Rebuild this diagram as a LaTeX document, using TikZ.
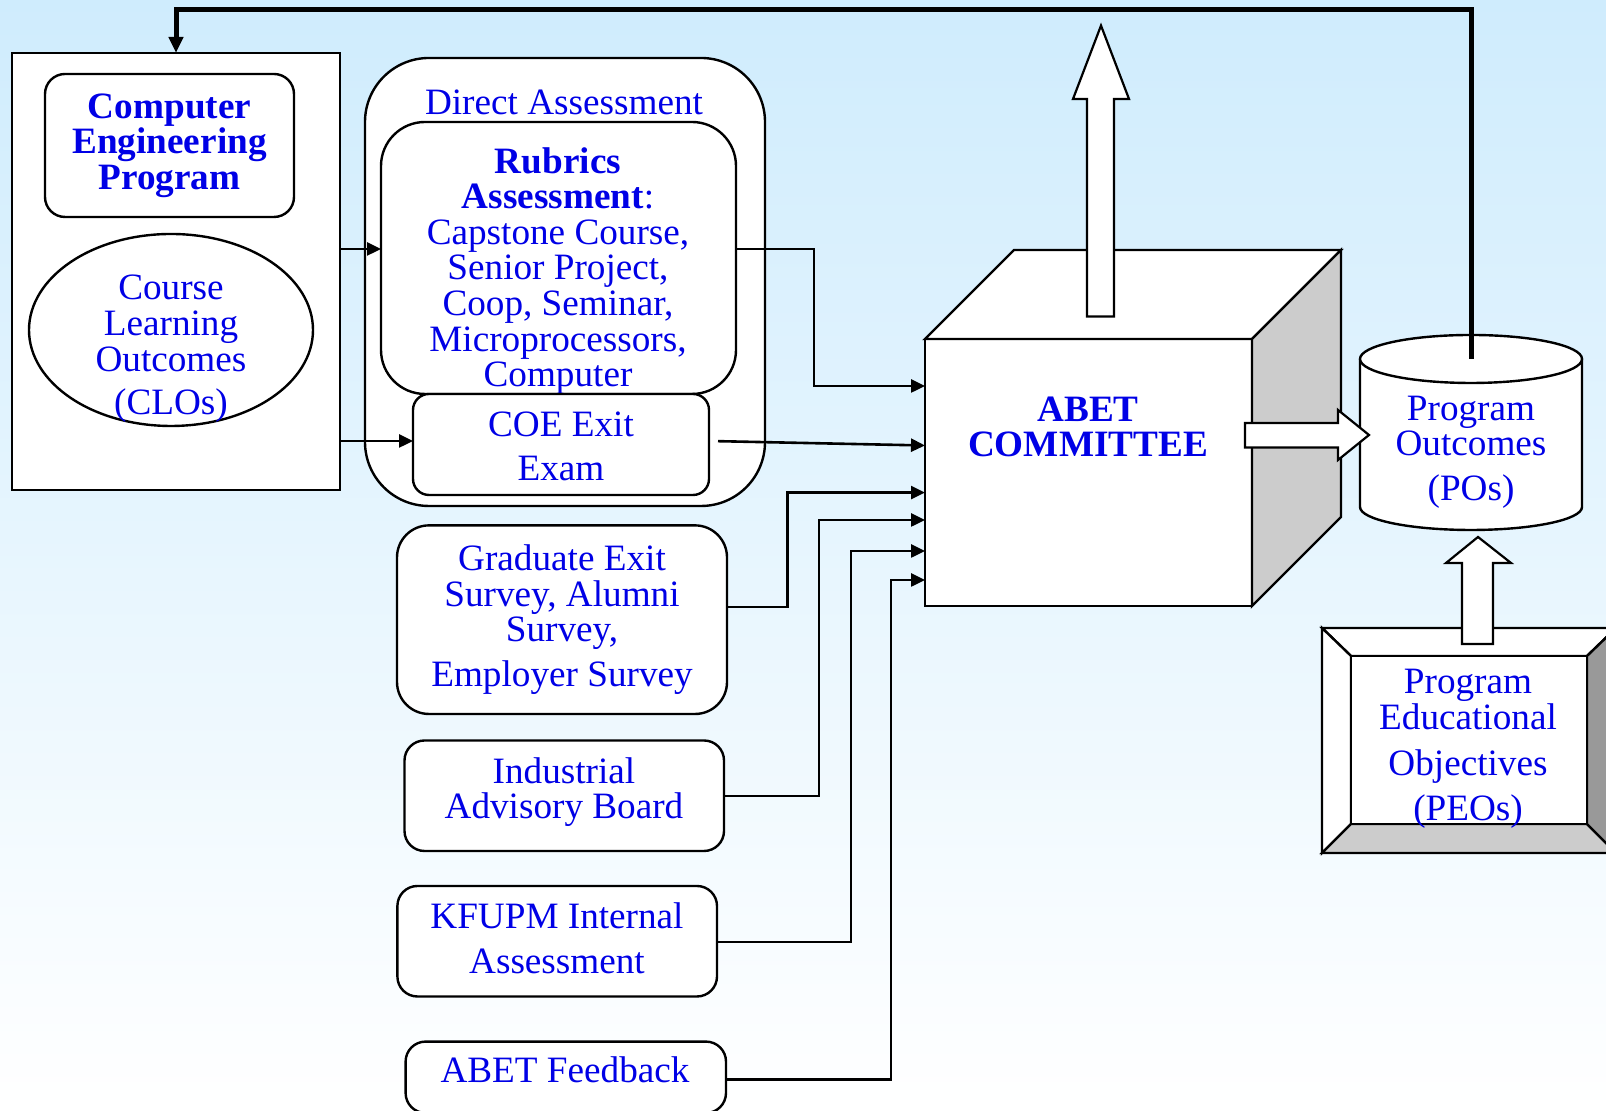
\documentclass[tikz,border=0pt]{standalone}
\usepackage{fontspec}
\setmainfont{Liberation Serif}
\usetikzlibrary{positioning,shapes,arrows.meta,calc}
\definecolor{tblue}{RGB}{0,0,230}
\definecolor{bgtop}{RGB}{207,236,253}
\definecolor{bgmid}{RGB}{236,246,255}
\definecolor{lgray}{RGB}{204,204,204}
\definecolor{dgray}{RGB}{153,153,153}
\newcommand{\diafont}{\fontsize{18.6}{17.8}\selectfont}
\tikzstyle{box} = [draw, fill=white, line width=1.2pt, inner sep=0pt, outer sep=0pt,
    align=center, text=tblue, font=\diafont]
\tikzstyle{rbox} = [box, rounded corners=10pt]
\tikzstyle{txt} = [align=center, text=tblue, font=\diafont, inner sep=0pt]
\tikzstyle{conn} = [line width=1.3pt, -{Triangle[length=7pt,width=6.5pt]}]
\tikzstyle{feedback} = [line width=2.5pt, -{Triangle[length=8pt,width=7pt]}]
\tikzstyle{blockarrow} = [draw, fill=white, line width=1.1pt]

\begin{document}
\begin{tikzpicture}[x=0.5pt, y=0.5pt]
\useasboundingbox (0,0) rectangle (1606,1111);
\clip (0,0) rectangle (1606,1111);
\shade[top color=bgtop, middle color=bgmid, bottom color=white] (0,0) rectangle (1606,1111);

\node (prog) [box, minimum width=164pt, minimum height=218.5pt] at (176,839.5) {};
\node (cep) [rbox, font=\diafont\bfseries, minimum width=124.5pt, minimum height=71.5pt] at (169.5,965.5) {Computer\\Engineering\\Program};
\node (clo) [box, ellipse, minimum width=142pt, minimum height=96pt] at (171,781) {};
\node (clotext) [txt] at (171,762) {Course\\Learning\\Outcomes\\[4pt](CLOs)};

\node (da) [box, rounded corners=32pt, minimum width=200pt, minimum height=224pt] at (565,829) {};
\node (datext) [txt] at (564,1008.6) {Direct Assessment};
\node (rub) [box, rounded corners=22pt, minimum width=177.5pt, minimum height=136pt] at (558.5,853) {};
\node (rubtext) [txt] at (558,840) {\textbf{Rubrics}\\\textbf{Assessment}:\\Capstone Course,\\Senior Project,\\Coop, Seminar,\\Microprocessors,\\Computer};
\node (coe) [rbox, rounded corners=8pt, minimum width=148pt, minimum height=50.5pt] at (561,666.5) {};
\node (coetext) [txt] at (561,664.5) {COE Exit\\[4pt]Exam};

\node (grad) [rbox, rounded corners=16pt, minimum width=165pt, minimum height=94.3pt] at (562,491.3) {Graduate Exit\\Survey, Alumni\\Survey,\\[4.5pt]Employer Survey};
\node (ind) [rbox, minimum width=159.75pt, minimum height=55.25pt] at (564.25,315.25) {};
\node (indtext) [txt] at (564,319) {Industrial\\Advisory Board};
\node (kfupm) [rbox, minimum width=159.8pt, minimum height=55.25pt] at (557.2,169.75) {};
\node (kfupmtext) [txt] at (557,172.5) {KFUPM Internal\\[4.7pt]Assessment};
\node (fb) [rbox, minimum width=160.2pt, minimum height=35.7pt] at (565.8,33.7) {};
\node (fbtext) [txt] at (565,41) {ABET Feedback};

\node (abet) [box, minimum width=163.5pt, minimum height=133.5pt] at (1088.5,638.5) {};
\draw[fill=white, line width=1.2pt] (abet.north west) -- ++(89,89) -- ++(327,0) -- (abet.north east) -- cycle;
\draw[fill=lgray, line width=1.2pt] (abet.north east) -- ++(89,89) -- ++(0,-267) -- (abet.south east) -- cycle;
\node (abettext) [txt, font=\diafont\bfseries] at (1088,684) {ABET\\COMMITTEE};
\draw[blockarrow] (1087,794.5) -- (1087,1012) -- (1073,1012) -- (1101,1085.4) -- (1129,1012) -- (1114,1012) -- (1114,794.5) -- cycle;

\draw[fill=white, line width=1.2pt] (1360,752) -- (1360,604) arc[start angle=180, end angle=360, x radius=55.5pt, y radius=11.5pt] -- (1582,752);
\draw[fill=white, line width=1.2pt] (1471,752) ellipse [x radius=55.5pt, y radius=12pt];
\coordinate (potop) at (1471,752);
\node (po) [txt] at (1471,659) {Program\\Outcomes\\[4.5pt](POs)};
\draw[blockarrow] (1245,688) -- (1338,688) -- (1338,701) -- (1369,676) -- (1338,651) -- (1338,663.4) -- (1245,663.4) -- cycle;

\draw[fill=white, line width=1.2pt] (1322,483) -- (1616,483) -- (1587,455) -- (1351,455) -- cycle;
\draw[fill=white, line width=1.2pt] (1322,483) -- (1351,455) -- (1351,287) -- (1322,258) -- cycle;
\draw[fill=lgray, line width=1.2pt] (1322,258) -- (1351,287) -- (1587,287) -- (1616,258) -- cycle;
\draw[fill=dgray, line width=1.2pt] (1616,483) -- (1587,455) -- (1587,287) -- (1616,258) -- cycle;
\node (peo) [box, minimum width=118pt, minimum height=84pt] at (1469,371) {};
\node (peotext) [txt] at (1468,362) {Program\\Educational\\[5pt]Objectives\\[5pt](PEOs)};
\draw[blockarrow] (1462,467) -- (1462,548) -- (1446,548) -- (1478,574) -- (1511,548) -- (1493,548) -- (1493,467) -- cycle;

\draw[conn] (prog.east |- 0,862) -- (rub.west |- 0,862);
\draw[conn] (prog.east |- 0,670) -- (coe.west |- 0,670);
\draw[conn] (rub.east |- 0,862) -| (814,725) -- (abet.west |- 0,725);
\draw[conn, shorten <=4.5pt] (coe.east |- 0,670) -- (abet.west |- 0,665.5);
\draw[conn] (grad.east |- 0,504) -| (787.6,618.4) -- (abet.west |- 0,618.4);
\draw[conn] (ind.east |- 0,315) -| (819,591) -- (abet.west |- 0,591);
\draw[conn] (kfupm.east |- 0,169) -| (851,560) -- (abet.west |- 0,560);
\draw[conn] (fb.east |- 0,31.5) -| (891,531) -- (abet.west |- 0,531);
\draw[feedback] (potop) -- (1471,1101) -| (prog.north);
\end{tikzpicture}
\end{document}
